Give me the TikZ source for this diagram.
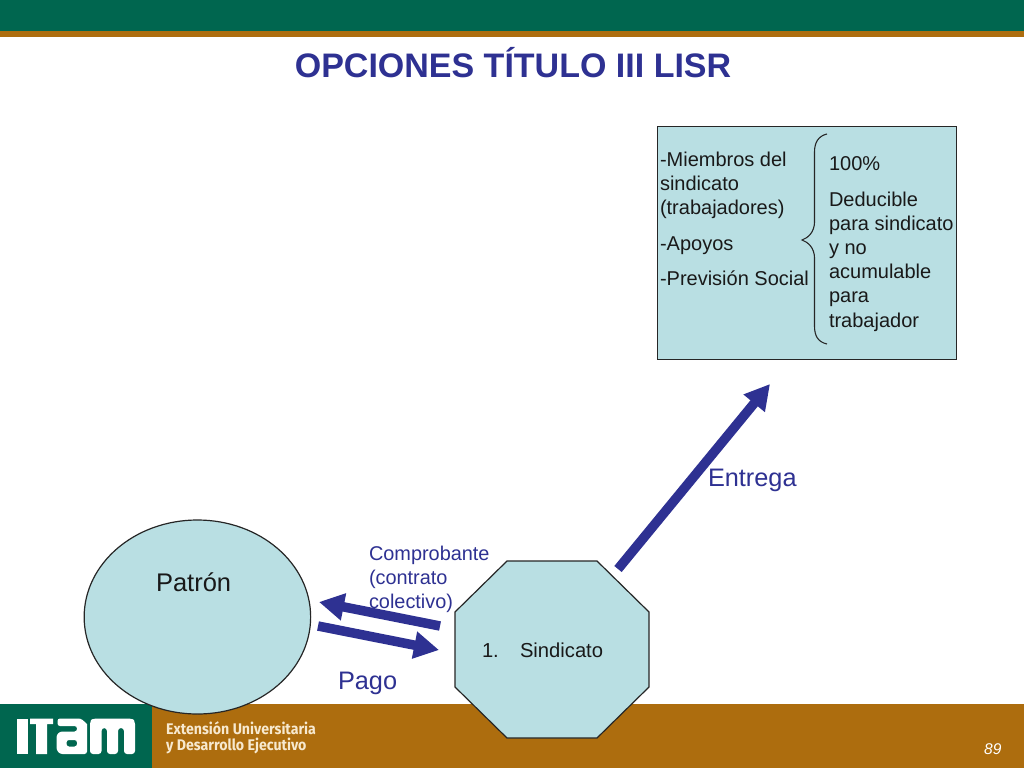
\documentclass[tikz,border=0pt]{standalone}
\usepackage{fontspec}
\setmainfont{Liberation Sans}
\newfontfamily\footfont[FakeStretch=0.92]{Fira Sans}
\usetikzlibrary{shapes.geometric,arrows.meta}
\definecolor{itamgreen}{HTML}{00664F}
\definecolor{itamgold}{HTML}{AD6D0E}
\definecolor{shapefill}{HTML}{B9DFE3}
\definecolor{titleblue}{HTML}{2E3192}
\definecolor{footcream}{HTML}{F7E9CF}
\tikzset{
  x=1pt,y=-1pt,
  shapeline/.style={draw=black!85,line width=1.2pt,fill=shapefill},
  txt/.style={inner sep=0pt,outer sep=0pt,align=left,text=black!90},
  boxtext/.style={txt,anchor=north west,font=\fontsize{20}{24.2}\selectfont},
  bluelabel/.style={inner sep=0pt,outer sep=0pt,align=left,text=titleblue},
  flowarrow/.style={draw=titleblue,line width=9.5pt,-{Triangle[length=25pt,width=26pt]}},
  logopart/.style={fill=white,draw=none},
}
\begin{document}
\begin{tikzpicture}
\path[use as bounding box,fill=white] (0,0) rectangle (1024,768);
% bands
\fill[itamgreen] (0,0) rectangle (1024,31);
\fill[itamgold] (0,31) rectangle (1024,37);
\fill[itamgold] (152,704) rectangle (1024,768);
\fill[itamgreen] (0,704) rectangle (152,768);
% logo
\fill[logopart] (17.3,718.5) rectangle (27.5,754);
\fill[logopart] (30,718.5) rectangle (53,724) (36,718.5) rectangle (47,754);
\fill[logopart,even odd rule,rounded corners=2.5pt]
  (57.5,718.5) -- (81,718.5) [sharp corners] -- (87,724) [rounded corners=2.5pt] -- (87,754) -- (60,754) -- (56.5,750) -- (56.5,735) -- (60,731.5) -- (77,731.5) -- (77,726) -- (57.5,726) -- cycle
  (66.5,740) rectangle (77,746.5);
\fill[logopart,rounded corners=3pt]
  (90,754) -- (90,721) -- (93,718.5) -- (132,718.5) -- (135,721) -- (135,754) -- (124,754) -- (124,728) -- (118,728) -- (118,754) -- (107,754) -- (107,728) -- (101.5,728) -- (101.5,754) -- cycle;
\node[inner sep=0pt,anchor=north west,align=left,text=footcream,font=\footfont\bfseries\fontsize{15.4}{16.5}\selectfont] (footer) at (166,721) {Extensión Universitaria\\y Desarrollo Ejecutivo};
\node[inner sep=0pt,anchor=base west,text=white,font=\itshape\fontsize{15.5}{15.5}\selectfont] (pagenum) at (984,754) {89};
% title
\node[inner sep=0pt,text=titleblue,font=\bfseries\fontsize{34}{36}\selectfont] (title) at (513,63) {OPCIONES TÍTULO III LISR};
% box
\node[shapeline,rectangle,minimum width=299pt,minimum height=233pt,anchor=north west,inner sep=0pt] (box) at (657,126) {};
\node[boxtext] (boxleft) at (660,152) {-Miembros del\\sindicato\\(trabajadores)\\[11pt]-Apoyos\\[11pt]-Previsión Social};
\node[boxtext] (boxright) at (829,157) {100\%\\[11pt]Deducible\\para sindicato\\y no\\acumulable\\para\\trabajador};
\coordinate (bracetop) at (827,134);
\coordinate (bracetip) at (802,240);
\coordinate (bracebot) at (827,344);
\draw[black!85,line width=1.1pt] (bracetop) .. controls (818,136) and (814.5,143) .. (814.5,152) -- (814.5,222) .. controls (814.5,232) and (808,238) .. (bracetip) .. controls (808,242) and (814.5,248) .. (814.5,258) -- (814.5,326) .. controls (814.5,336) and (818,342) .. (bracebot);
% ellipse
\node[shapeline,ellipse,minimum width=226.5pt,minimum height=194pt,inner sep=0pt] (patron) at (197.4,617) {};
\node[txt,font=\fontsize{25.5}{28}\selectfont,anchor=base west] (patronlabel) at (156,591) {Patrón};
% octagon
\coordinate (o1) at (507,561); \coordinate (o2) at (597,561);
\coordinate (o3) at (649,612); \coordinate (o4) at (649,687);
\coordinate (o5) at (597,738); \coordinate (o6) at (507,738);
\coordinate (o7) at (455,687); \coordinate (o8) at (455,612);
\draw[shapeline] (o1) -- (o2) -- (o3) -- (o4) -- (o5) -- (o6) -- (o7) -- (o8) -- cycle;
\node[txt,font=\fontsize{20.2}{24}\selectfont,anchor=base west] (num) at (482,657) {1.};
\node[txt,font=\fontsize{20.2}{24}\selectfont,anchor=base west] (sind) at (520,657) {Sindicato};
% labels
\node[bluelabel,anchor=north west,font=\fontsize{19.9}{24}\selectfont] (comp) at (369,546) {Comprobante\\(contrato\\colectivo)};
\node[bluelabel,anchor=base west,font=\fontsize{25.3}{28}\selectfont] (pago) at (338,689) {Pago};
\node[bluelabel,anchor=base west,font=\fontsize{25.3}{28}\selectfont] (entrega) at (708,486) {Entrega};
% arrows
\coordinate (a1s) at (440,626); \coordinate (a1e) at (319,602);
\coordinate (a2s) at (318,626); \coordinate (a2e) at (439,650);
\coordinate (a3s) at (618,569); \coordinate (a3e) at (770,384);
\draw[flowarrow] (a1s) -- (a1e);
\draw[flowarrow] (a2s) -- (a2e);
\draw[flowarrow] (a3s) -- (a3e);
\end{tikzpicture}
\end{document}
